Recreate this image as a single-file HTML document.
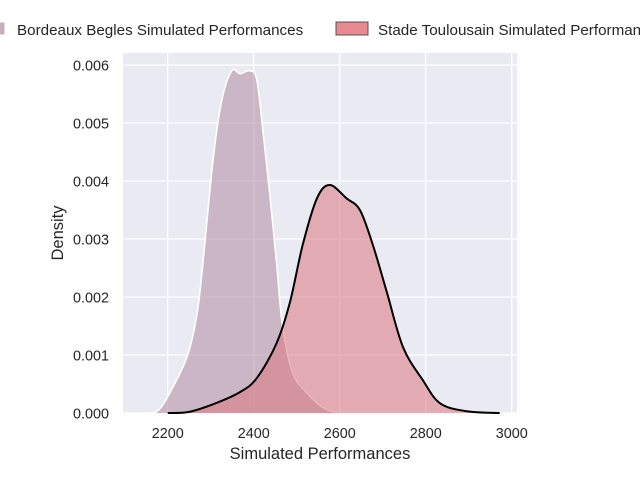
<!DOCTYPE html>
<html><head><meta charset="utf-8"><style>
body{margin:0;background:#fff;}
svg{display:block;font-family:"Liberation Sans",Arial,sans-serif;}
</style></head><body>
<svg id="chart" width="640" height="480">
<rect x="123" y="53" width="394" height="360" fill="#eaeaf2"/>
<g id="grid"></g>
<g id="series"></g>
<g id="ticks" fill="#262626" font-size="14.4"></g>
<text x="320" y="459" text-anchor="middle" font-size="16.5" fill="#262626">Simulated Performances</text>
<text transform="translate(63,233) rotate(-90)" text-anchor="middle" font-size="16.5" fill="#262626">Density</text>
<g font-size="15.2" fill="#262626">
 <g>
  <rect x="-28" y="22" width="33" height="13" fill="rgb(200,175,188)" stroke="#fff" stroke-width="1"/>
  <text x="17" y="35">Bordeaux Begles Simulated Performances</text>
 </g>
 <g>
  <rect x="336" y="22" width="32" height="13" fill="rgb(232,136,144)" stroke="#555" stroke-width="1"/>
  <text x="378" y="35">Stade Toulousain Simulated Performances</text>
 </g>
</g>
</svg>
<script>
const xTicks=[2200,2400,2600,2800,3000];
const yTicks=[0,0.001,0.002,0.003,0.004,0.005,0.006];
const yTickLabels=["0.000","0.001","0.002","0.003","0.004","0.005","0.006"];
const bbX=[2150,2177,2205,2245,2268,2282,2306,2326,2349,2368,2391,2407,2421,2437,2453,2467,2490,2523,2560,2593];
const bbY=[0,0.00004,0.00035,0.00097,0.0017,0.0026,0.0044,0.0054,0.0059,0.00585,0.0059,0.00575,0.0049,0.0038,0.0026,0.0015,0.0007,0.00035,0.0001,0];
const stX=[2200,2250,2312,2368,2407,2453,2484,2514,2547,2577,2616,2647,2677,2709,2747,2793,2833,2895,2972];
const stY=[0,0.00002,0.00017,0.00036,0.0006,0.0012,0.0019,0.0029,0.0037,0.00393,0.0037,0.0035,0.0029,0.0021,0.00114,0.00057,0.00017,0.00003,0];
const NS="http://www.w3.org/2000/svg";
function sx(v){return 167.7+(v-2200)*0.43;}
function sy(v){return 413-v*58000;}
const grid=document.getElementById('grid'),ticks=document.getElementById('ticks'),series=document.getElementById('series');
xTicks.forEach(t=>{
 const l=document.createElementNS(NS,'line');
 
 
 l.setAttribute('x1',sx(t));l.setAttribute('x2',sx(t));l.setAttribute('y1',53);l.setAttribute('y2',413);
 l.setAttribute('stroke','#fff');l.setAttribute('stroke-width','1.3');grid.appendChild(l);
 const tx=document.createElementNS(NS,'text');
 
 
 tx.setAttribute('x',sx(t));tx.setAttribute('y',438);tx.setAttribute('text-anchor','middle');tx.textContent=t;ticks.appendChild(tx);
});
yTicks.forEach((t,i)=>{
 const l=document.createElementNS(NS,'line');
 
 
 l.setAttribute('x1',123);l.setAttribute('x2',517);l.setAttribute('y1',sy(t));l.setAttribute('y2',sy(t));
 l.setAttribute('stroke','#fff');l.setAttribute('stroke-width','1.3');grid.appendChild(l);
 const tx=document.createElementNS(NS,'text');
 
 
 tx.setAttribute('x',109);tx.setAttribute('y',sy(t)+5.5);tx.setAttribute('text-anchor','end');tx.textContent=yTickLabels[i];ticks.appendChild(tx);
});
function pathD(xs,ys){
 const p=xs.map((x,i)=>[sx(x),sy(ys[i])]);
 let d='M'+p[0][0]+','+p[0][1];
 for(let i=0;i<p.length-1;i++){
  const p0=p[Math.max(0,i-1)],p1=p[i],p2=p[i+1],p3=p[Math.min(p.length-1,i+2)];
  const c1=[p1[0]+(p2[0]-p0[0])/6,p1[1]+(p2[1]-p0[1])/6];
  const c2=[p2[0]-(p3[0]-p1[0])/6,p2[1]-(p3[1]-p1[1])/6];
  d+=' C'+c1[0]+','+c1[1]+' '+c2[0]+','+c2[1]+' '+p2[0]+','+p2[1];
 }
 return d;
}
function addSeries(xs,ys,fill,alpha,stroke,sw,name){
 const d=pathD(xs,ys);
 const f=document.createElementNS(NS,'path');
 
 
 f.setAttribute('d',d+' Z');f.setAttribute('fill',fill);f.setAttribute('fill-opacity',alpha);series.appendChild(f);
 const s=document.createElementNS(NS,'path');
 
 
 s.setAttribute('d',d);s.setAttribute('fill','none');s.setAttribute('stroke',stroke);s.setAttribute('stroke-width',sw);series.appendChild(s);
}
addSeries(bbX,bbY,'rgb(170,130,150)',0.5,'#fff','1.6','bordeaux-density');
addSeries(stX,stY,'rgb(218,118,130)',0.55,'#000','2','toulousain-density');
</script>
</body></html>
